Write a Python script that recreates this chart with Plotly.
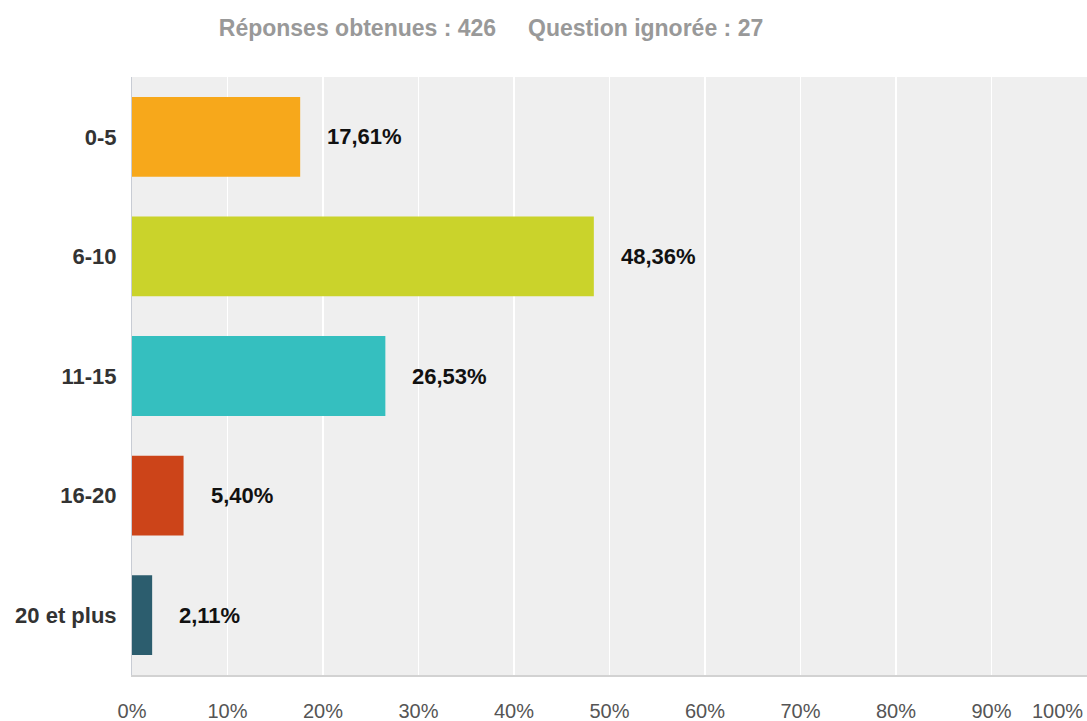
import plotly.graph_objects as go

categories = ["0-5", "6-10", "11-15", "16-20", "20 et plus"]
values = [17.61, 48.36, 26.53, 5.40, 2.11]
value_labels = ["17,61%", "48,36%", "26,53%", "5,40%", "2,11%"]
colors = ["#F7A81B", "#CAD32B", "#35BFBF", "#CC4419", "#2C5D6E"]
tick_vals = [0, 10, 20, 30, 40, 50, 60, 70, 80, 90]
tick_text = ["0%", "10%", "20%", "30%", "40%", "50%", "60%", "70%", "80%", "90%"]
last_tick = 100
last_tick_text = "100%"
title_text = "Réponses obtenues : 426\u00a0\u00a0\u00a0\u00a0\u00a0Question ignorée : 27"

FONT = "Arial, 'Liberation Sans', sans-serif"

fig = go.Figure(
    go.Bar(
        x=values,
        y=categories,
        orientation="h",
        marker=dict(color=colors, line=dict(width=0)),
        hoverinfo="skip",
    )
)

for v, lab, c in zip(values, value_labels, categories):
    fig.add_annotation(
        x=v, y=c, xref="x", yref="y", text=lab, showarrow=False,
        xanchor="left", yanchor="middle", xshift=25,
        font=dict(family=FONT, size=22, color="#111111", weight="bold"),
    )

fig.add_annotation(
    x=last_tick, y=0, xref="x", yref="paper", text=last_tick_text,
    showarrow=False, xanchor="right", yanchor="middle", yshift=-36, xshift=-2,
    font=dict(family=FONT, size=20, color="#555555"),
)

fig.update_layout(
    width=1087, height=721,
    margin=dict(l=132, r=0, t=77, b=46, autoexpand=False),
    paper_bgcolor="white",
    plot_bgcolor="#EFEFEF",
    bargap=0.333,
    showlegend=False,
    title=dict(
        text=title_text, x=491 / 1087, xanchor="center", y=1 - 28 / 721, yanchor="middle",
        font=dict(family=FONT, size=23, color="#999999", weight="bold"),
    ),
    xaxis=dict(
        range=[0, 100], tickvals=tick_vals, ticktext=tick_text,
        showgrid=True, gridcolor="#FFFFFF", gridwidth=1.5,
        zeroline=False, showline=True, linecolor="#D2D2D2", linewidth=2,
        ticks="outside", ticklen=17, tickcolor="rgba(0,0,0,0)",
        tickfont=dict(family=FONT, size=20, color="#555555"),
        automargin=False, fixedrange=True,
    ),
    yaxis=dict(
        categoryorder="array", categoryarray=categories,
        range=[4.5, -0.5],
        showgrid=False, zeroline=False,
        showline=True, linecolor="#C8CCD4", linewidth=1,
        ticks="outside", ticklen=10, tickcolor="rgba(0,0,0,0)",
        tickfont=dict(family=FONT, size=22, color="#333333", weight="bold"),
        automargin=False, fixedrange=True,
    ),
)

fig.write_html(
    "out.html",
    config={"displayModeBar": False, "staticPlot": True},
    post_script="document.body.style.margin='0';document.body.style.overflow='hidden';",
)
